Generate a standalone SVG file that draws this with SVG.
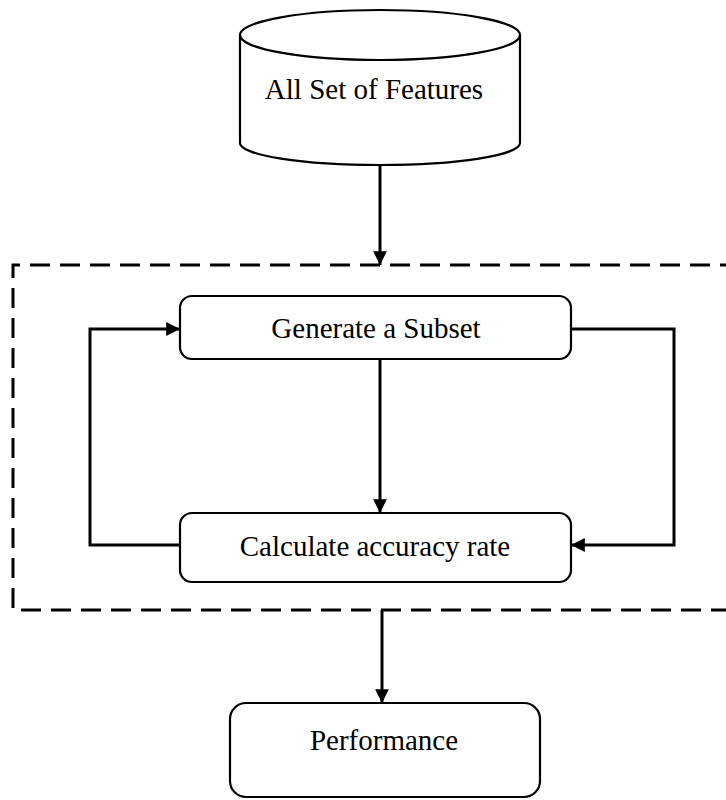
<svg xmlns="http://www.w3.org/2000/svg" width="726" height="800" viewBox="0 0 726 800">
<defs>
<marker id="ah" viewBox="0 0 10 10" refX="10" refY="5" markerWidth="5" markerHeight="4.6" orient="auto" markerUnits="strokeWidth">
<path d="M0,0 L10,5 L0,10 z" fill="#000"/>
</marker>
<style>
.box{fill:#fff;stroke:#000;stroke-width:2.2}
.lbl{font-family:"Liberation Serif","Times New Roman",serif;font-size:29px;fill:#000;text-anchor:middle}
.con{fill:none;stroke:#000;stroke-width:3}
.dash{fill:none;stroke:#000;stroke-width:3;stroke-dasharray:20 10}
</style>
</defs>
<rect width="726" height="800" fill="#fff"/>
<g id="group-box">
<path class="dash" d="M740,265 L13,265 L13,610 L740,610"/>
</g>
<g id="node-features">
<path class="box" d="M240,35 L240,143 A140,22 0 0 0 520,143 L520,35"/>
<ellipse class="box" cx="380" cy="35" rx="140" ry="25"/>
<text class="lbl" x="374" y="99">All Set of Features</text>
</g>
<g id="node-generate">
<rect class="box" x="180" y="296" width="391" height="63" rx="12"/>
<text class="lbl" x="376" y="338">Generate a Subset</text>
</g>
<g id="node-calculate">
<rect class="box" x="180" y="513" width="391" height="69" rx="12"/>
<text class="lbl" x="375" y="556">Calculate accuracy rate</text>
</g>
<g id="node-performance">
<rect class="box" x="230" y="703" width="310" height="94" rx="16"/>
<text class="lbl" x="384" y="750">Performance</text>
</g>
<g id="connectors">
<path class="con" d="M380,165 L380,265" marker-end="url(#ah)"/>
<path class="con" d="M380,359 L380,513" marker-end="url(#ah)"/>
<path class="con" d="M180,545 L90,545 L90,329 L180,329" marker-end="url(#ah)"/>
<path class="con" d="M571,329 L674,329 L674,545 L571,545" marker-end="url(#ah)"/>
<path class="con" d="M382,610 L382,703" marker-end="url(#ah)"/>
</g>
</svg>
